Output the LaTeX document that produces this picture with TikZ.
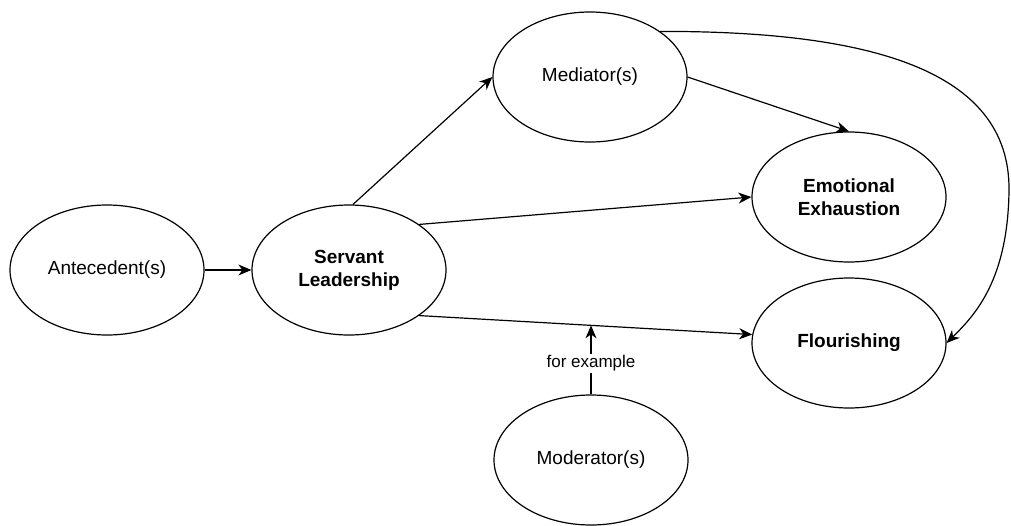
\documentclass[tikz,border=0pt]{standalone}
\usepackage{fontspec}
\setmainfont{Liberation Sans}
\usetikzlibrary{shapes.geometric,arrows.meta,calc}
\tikzset{
  var/.style={ellipse, draw, line width=1.2pt, minimum width=194pt, minimum height=130pt,
    inner sep=0pt, align=center, font=\fontsize{19}{23}\selectfont},
  key/.style={var, font=\fontsize{19}{23}\selectfont\bfseries},
  link/.style={line width=1.2pt, -{Stealth[length=13pt,width=11pt,inset=4pt]}},
  lbl/.style={fill=white, inner sep=1.5pt, font=\fontsize{17}{20}\selectfont}
}
\begin{document}
\begin{tikzpicture}[x=1pt,y=-1pt]
  \useasboundingbox (0,0) rectangle (1011,525);

  \node[var] (ant) at (107,270) {Antecedent(s)};
  \node[key] (sl)  at (349,270) {Servant\\Leadership};
  \node[var] (med) at (590,77)  {Mediator(s)};
  \node[key] (ee)  at (849,197) {Emotional\\Exhaustion};
  \node[key] (fl)  at (849,343) {Flourishing};
  \node[var] (mod) at (591,460) {Moderator(s)};

  \draw[link] (ant) -- (sl);
  \draw[link] (sl.north) ++(4,0) -- (med.west);
  \draw[link] (med.east) -- (ee.north);
  \draw[link] (sl.33) -- (ee.west);
  \draw[link] (sl.-33) -- coordinate[pos=0.515] (mid) (fl.175);
  \draw[link] (mod.north) -- node[lbl, pos=0.45] {for example} (mod.north |- mid);
  \draw[link] (med.33) .. controls (870,31) and (1010,70) .. (1009,190)
                       .. controls (1008,280) and (975,315) .. (fl.east);
\end{tikzpicture}
\end{document}
